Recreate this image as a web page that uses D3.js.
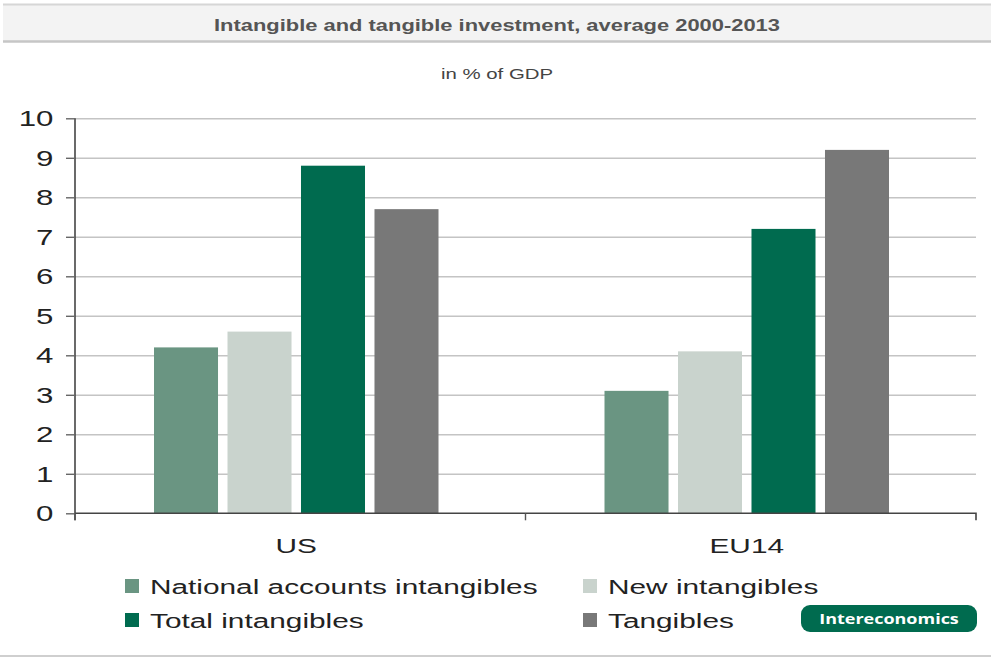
<!DOCTYPE html>
<html>
<head>
<meta charset="utf-8">
<script src="https://cdn.jsdelivr.net/npm/d3@7"></script>
<style>
  html, body { margin: 0; padding: 0; background: #fff; }
  svg { display: block; }
  text { font-family: "Liberation Sans", Arial, sans-serif; }
</style>
</head>
<body>
<svg id="chart" width="991" height="659"></svg>
<script>
// ---- Data ----
const title = "Intangible and tangible investment, average 2000-2013";
const subtitle = "in % of GDP";
const categories = ["US", "EU14"];
const series = ["National accounts intangibles", "New intangibles", "Total intangibles", "Tangibles"];
const usValues = [4.2, 4.6, 8.8, 7.7];
const eu14Values = [3.1, 4.1, 7.2, 9.2];
const yTicks = [0, 1, 2, 3, 4, 5, 6, 7, 8, 9, 10];
const seriesColors = ["#6a9582", "#c9d3cd", "#006b4f", "#787878"];
const badgeText = "Intereconomics";

const valuesByCategory = { "US": usValues, "EU14": eu14Values };

// ---- Layout ----
const W = 991, H = 659;
const plot = { left: 75, right: 976, top: 118.3, bottom: 513.3 };
const SX = 1.42; // horizontal text stretch seen in the reference

const svg = d3.select("#chart");

// Header band
svg.append("rect").attr("x", 3).attr("y", 4).attr("width", W - 3).attr("height", 38)
  .attr("fill", "#f3f3f3");
svg.append("line").attr("x1", 3).attr("x2", W).attr("y1", 4.5).attr("y2", 4.5)
  .attr("stroke", "#d6d6d6").attr("stroke-width", 2);
svg.append("line").attr("x1", 3).attr("x2", W).attr("y1", 41.5).attr("y2", 41.5)
  .attr("stroke", "#c6c6c6").attr("stroke-width", 2.5);

function stretchedText(x, y, str, opts) {
  const t = svg.append("text")
    .attr("transform", `translate(${x},${y}) scale(${opts.sx || SX},1)`)
    .attr("text-anchor", opts.anchor || "start")
    .attr("font-size", opts.size)
    .attr("font-weight", opts.weight || "normal")
    .attr("fill", opts.fill || "#222")
    .text(str);
  if (opts.family) t.style("font-family", opts.family);
  return t;
}

stretchedText(497, 31, title, { size: 16, weight: "bold", fill: "#555", sx: 1.37, anchor: "middle" });
stretchedText(497, 79, subtitle, { size: 15, fill: "#444", sx: 1.36, anchor: "middle" });

// Scales
const x0 = d3.scaleBand().domain(categories).range([plot.left, plot.right]).padding(0);
const groupWidth = 284.5;
const x1 = d3.scaleBand().domain(series).range([0, groupWidth]).paddingInner(0.129).paddingOuter(0);
const groupOffset = (x0.bandwidth() - groupWidth) / 2 - 4;
const y = d3.scaleLinear().domain([0, 10]).range([plot.bottom, plot.top]);
const color = d3.scaleOrdinal().domain(series).range(seriesColors);

// Gridlines
const grid = svg.append("g").attr("transform", `translate(${plot.left},0)`)
  .call(d3.axisLeft(y).tickValues(yTicks.filter(d => d > 0)).tickSize(-(plot.right - plot.left)).tickFormat(""));
grid.select(".domain").remove();
grid.selectAll(".tick line").attr("stroke", "#c4c4c4").attr("stroke-width", 1.6);

// Bars
const groups = svg.append("g").selectAll("g").data(categories).join("g")
  .attr("transform", d => `translate(${x0(d) + groupOffset},0)`);
groups.selectAll("rect")
  .data(c => series.map((s, i) => ({ s, v: valuesByCategory[c][i] })))
  .join("rect")
  .attr("x", d => x1(d.s))
  .attr("width", x1.bandwidth())
  .attr("y", d => y(d.v))
  .attr("height", d => y(0) - y(d.v))
  .attr("fill", d => color(d.s));

// Y axis
const yAxis = svg.append("g").attr("transform", `translate(${plot.left},0)`)
  .call(d3.axisLeft(y).tickValues(yTicks).tickSize(9).tickSizeOuter(0));
yAxis.select(".domain").attr("stroke", "#444").attr("stroke-width", 1.6)
  .attr("d", `M0,${plot.top}V${plot.bottom + 7}`);
yAxis.selectAll(".tick line").attr("stroke", "#666").attr("stroke-width", 1.4);
yAxis.selectAll(".tick text")
  .attr("x", 0).attr("dy", "0.34em")
  .attr("transform", `translate(-21.5,0) scale(${SX},1)`)
  .attr("font-size", 22).attr("fill", "#222")
  .style("font-family", '"Liberation Sans", Arial, sans-serif');

// X axis
const xAxis = svg.append("g").attr("transform", `translate(0,${plot.bottom})`)
  .call(d3.axisBottom(x0).tickSize(0).tickFormat(""));
xAxis.select(".domain").attr("stroke", "#444").attr("stroke-width", 1.6)
  .attr("d", `M${plot.left},0H${plot.right}V7`);
xAxis.selectAll(".tick").remove();
// separators between categories
const seps = [plot.left, ...categories.slice(1).map(c => x0(c))];
xAxis.selectAll("line.sep").data(seps).join("line").attr("class", "sep")
  .attr("x1", d => d).attr("x2", d => d).attr("y1", 0).attr("y2", 7)
  .attr("stroke", "#555").attr("stroke-width", 1.4);

// Category labels
categories.forEach(c => {
  const cx = x0(c) + groupOffset + groupWidth / 2;
  stretchedText(cx, 553, c, { size: 21, anchor: "middle", fill: "#222" });
});

// Legend
const legendCols = [125, 583];
const legendRows = [579, 613];
series.forEach((s, i) => {
  const lx = legendCols[i % 2], ly = legendRows[Math.floor(i / 2)];
  svg.append("rect").attr("x", lx).attr("y", ly).attr("width", 14).attr("height", 14)
    .attr("fill", color(s));
  stretchedText(lx + 25, ly + 14.5, s, { size: 21, fill: "#222" });
});

// Badge
svg.append("rect").attr("x", 801).attr("y", 605).attr("width", 176).attr("height", 27)
  .attr("rx", 9).attr("fill", "#006b4f");
stretchedText(889, 624, badgeText, { size: 15, weight: "bold", fill: "#fff", sx: 1.2, anchor: "middle", family: '"Open Sans", sans-serif' });

// Bottom rule
svg.append("line").attr("x1", 0).attr("x2", W).attr("y1", 656).attr("y2", 656)
  .attr("stroke", "#cfcfcf").attr("stroke-width", 2);
</script>
</body>
</html>
